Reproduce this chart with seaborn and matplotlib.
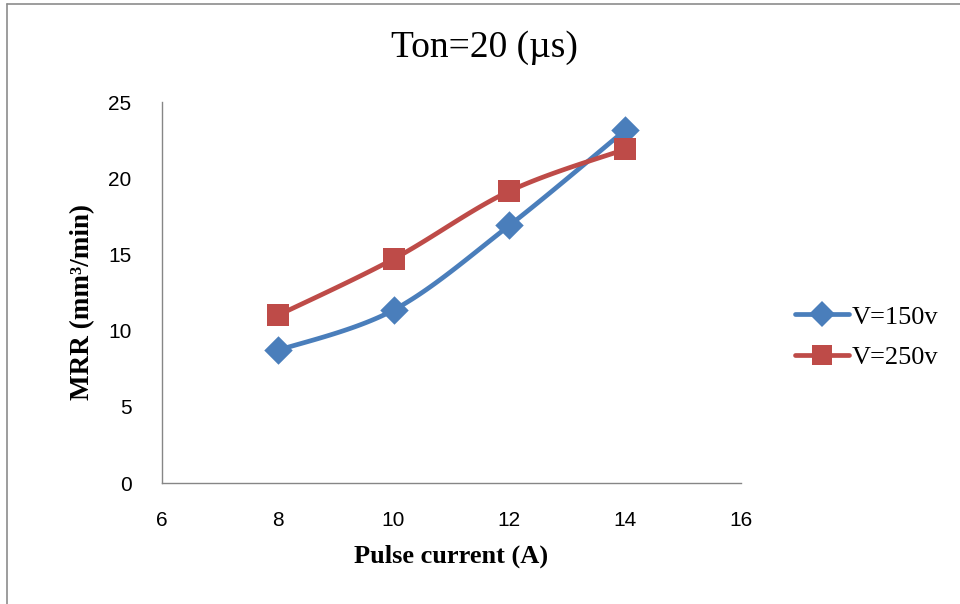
import numpy as np
import pandas as pd
import matplotlib
matplotlib.use("Agg")
import matplotlib.pyplot as plt
import seaborn as sns
from matplotlib.lines import Line2D
from matplotlib import font_manager

# ---- data ----
pulse_current = [8, 10, 12, 14]
mrr_v150 = [8.7, 11.35, 16.9, 23.15]
mrr_v250 = [11.0, 14.7, 19.15, 21.9]
series_names = ["V=150v", "V=250v"]
x_ticks = [6, 8, 10, 12, 14, 16]
y_ticks = [0, 5, 10, 15, 20, 25]

colors = {"V=150v": "#4A7EBB", "V=250v": "#BE4B48"}
markers = {"V=150v": "D", "V=250v": "s"}


def smooth(xs, ys, n=40):
    """Excel-like smoothed line (Catmull-Rom as cubic Bezier)."""
    xs = np.asarray(xs, float)
    ys = np.asarray(ys, float)
    P = np.column_stack([xs, ys])
    out = []
    for i in range(len(P) - 1):
        p0 = P[i - 1] if i > 0 else P[i]
        p1 = P[i]
        p2 = P[i + 1]
        p3 = P[i + 2] if i + 2 < len(P) else P[i + 1]
        c1 = p1 + (p2 - p0) / 6.0
        c2 = p2 - (p3 - p1) / 6.0
        t = np.linspace(0, 1, n)[:, None]
        seg = ((1 - t) ** 3) * p1 + 3 * ((1 - t) ** 2) * t * c1 + 3 * (1 - t) * t ** 2 * c2 + t ** 3 * p2
        out.append(seg if i == 0 else seg[1:])
    out = np.vstack(out)
    return out[:, 0], out[:, 1]


pts = pd.DataFrame({
    "x": pulse_current * 2,
    "y": mrr_v150 + mrr_v250,
    "series": [series_names[0]] * 4 + [series_names[1]] * 4,
})
curves = []
for name, vals in zip(series_names, [mrr_v150, mrr_v250]):
    sx, sy = smooth(pulse_current, vals)
    curves.append(pd.DataFrame({"x": sx, "y": sy, "series": name}))
curves = pd.concat(curves, ignore_index=True)

sns.set_theme(style="white")
plt.rcParams["font.family"] = ["Liberation Serif", "DejaVu Serif"]
plt.rcParams["text.color"] = "black"
plt.rcParams["axes.labelcolor"] = "black"
plt.rcParams["xtick.color"] = "black"
plt.rcParams["ytick.color"] = "black"

available = {f.name for f in font_manager.fontManager.ttflist}
tick_family = "Liberation Sans Narrow" if "Liberation Sans Narrow" in available else "Liberation Sans"

fig = plt.figure(figsize=(9.6, 6.04), dpi=100)
ax = fig.add_axes([0.16875, 0.2003, 0.603, 0.6308])

for name in series_names:
    d = curves[curves.series == name]
    sns.lineplot(data=d, x="x", y="y", sort=False, ax=ax, color=colors[name],
                 linewidth=3.4, legend=False, estimator=None)
for name in series_names:
    d = pts[pts.series == name]
    sns.scatterplot(data=d, x="x", y="y", ax=ax, color=colors[name], marker=markers[name],
                    s=260 if name == "V=250v" else 210, linewidth=0, legend=False, zorder=5)

ax.set_xlim(6, 16)
ax.set_ylim(0, 25)
ax.set_xticks(x_ticks)
ax.set_yticks(y_ticks)
ax.set_xticklabels([str(v) for v in x_ticks], family=tick_family, fontsize=15)
ax.set_yticklabels([str(v) for v in y_ticks], family=tick_family, fontsize=15)
ax.tick_params(axis="x", length=0, pad=20)
ax.tick_params(axis="y", length=0, pad=22)
for s in ["top", "right"]:
    ax.spines[s].set_visible(False)
for s in ["left", "bottom"]:
    ax.spines[s].set_color("#868686")
    ax.spines[s].set_linewidth(1.0)

ax.set_xlabel("Pulse current (A)", fontsize=19, fontweight="bold", labelpad=11)
ax.set_ylabel("MRR (mm³/min)", fontsize=19.5, fontweight="bold", va="center")
ax.yaxis.set_label_coords((83 - 162) / 579, (483 - 302) / 381)

fig.text(0.505, 0.921, "Ton=20 (µs)", ha="center", va="center", fontsize=27)

handles = [Line2D([0], [0], color=colors[n], lw=3.4, marker=markers[n],
                  markersize=14 if n == "V=250v" else 13, markeredgewidth=0) for n in series_names]
fig.legend(handles, series_names, loc="center left", bbox_to_anchor=(0.817, 0.442),
           frameon=False, fontsize=19, handlelength=2.05, handletextpad=0.12,
           labelspacing=0.63, borderaxespad=0)

# outer frame
fig.add_artist(Line2D([0.0075, 0.0075], [0, 0.993], transform=fig.transFigure, color="#8c8c8c", lw=1.2))
fig.add_artist(Line2D([0.0075, 1.0], [0.993, 0.993], transform=fig.transFigure, color="#8c8c8c", lw=1.2))

fig.savefig("out.png", dpi=100)
